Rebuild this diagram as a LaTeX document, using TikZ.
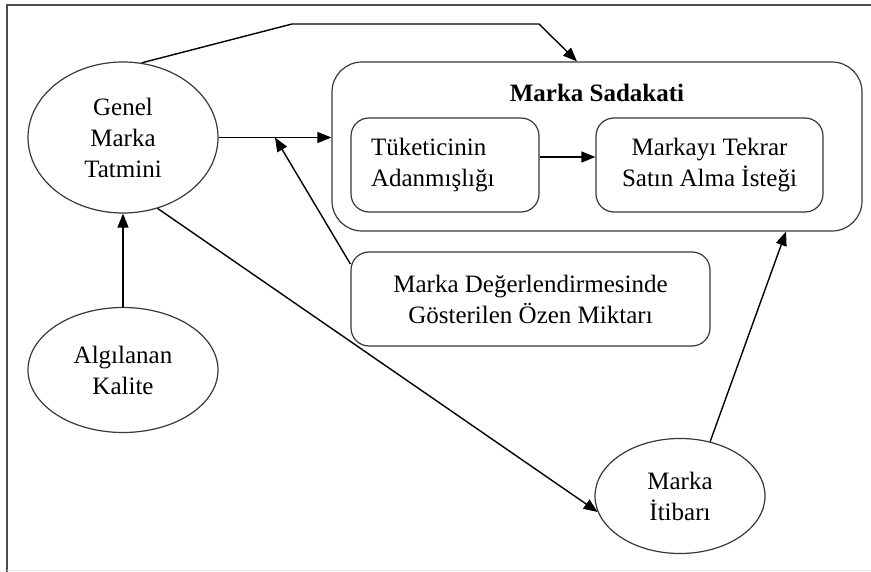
\documentclass[tikz,border=0pt]{standalone}
\usepackage{fontspec}
\setmainfont{Liberation Serif}
\usetikzlibrary{arrows.meta,shapes.geometric}
\begin{document}
\begin{tikzpicture}[x=1pt,y=-1pt,
  every node/.style={font=\fontsize{25}{31}\selectfont},
  oval/.style={ellipse, draw=black!78, line width=1.2pt, inner sep=0pt, align=center},
  rbox/.style={rectangle, rounded corners=18pt, draw=black!78, line width=1.2pt, inner sep=0pt, align=center},
  link/.style={draw=black, line width=1.4pt, -{Triangle[length=14pt,width=11pt]}},
  frame/.style={draw=black!70, line width=1.2pt}]
\useasboundingbox (0,0) rectangle (871,572);
% outer frame
\draw[frame] (871,5) -- (7,5) -- (7,572);
\draw[black!10, line width=0.8pt] (7,570.5) -- (871,570.5);

% constructs
\node[oval, minimum width=190pt, minimum height=151pt] (genel) at (123,137.5) {Genel\\Marka\\Tatmini};
\node[oval, minimum width=190pt, minimum height=125pt] (alg) at (123,370) {Algılanan\\Kalite};
\node[oval, minimum width=170pt, minimum height=115pt] (itibar) at (680,496) {Marka\\İtibarı};

% brand loyalty group
\node[rbox, rounded corners=30pt, minimum width=530pt, minimum height=169pt] (sadakat) at (597,146.5) {};
\node[font=\fontsize{25}{31}\selectfont\bfseries] (title) at (597,93) {Marka Sadakati};
\node[rbox, minimum width=188pt, minimum height=94pt, text width=148pt, align=left] (adan) at (445,165) {Tüketicinin\\Adanmışlığı};
\node[rbox, minimum width=227pt, minimum height=94pt] (tekrar) at (709.5,165) {Markayı Tekrar\\Satın Alma İsteği};

\node[rbox, minimum width=359pt, minimum height=94pt] (ozen) at (530.5,299) {Marka Değerlendirmesinde\\Gösterilen Özen Miktarı};

% routing points
\coordinate (bendA) at (292,24);
\coordinate (bendB) at (539,24);
\coordinate (dropA) at (577,0);
\coordinate (riseA) at (786,0);
\coordinate (merge) at (275,137.5);
\coordinate (level) at (0,157);

% connectors
\draw[link] (genel.76) -- (bendA) -- (bendB) -- (sadakat.north -| dropA);
\draw[link] (genel.east) -- (genel.east -| sadakat.west);
\draw[link] (ozen.169) -- (merge);
\draw[link] (alg.north) -- (genel.south);
\draw[link] (genel.-64) -- (itibar.191);
\draw[link] (adan.east |- level) -- (tekrar.west |- level);
\draw[link] (itibar.61) -- (sadakat.south -| riseA);
\end{tikzpicture}
\end{document}
